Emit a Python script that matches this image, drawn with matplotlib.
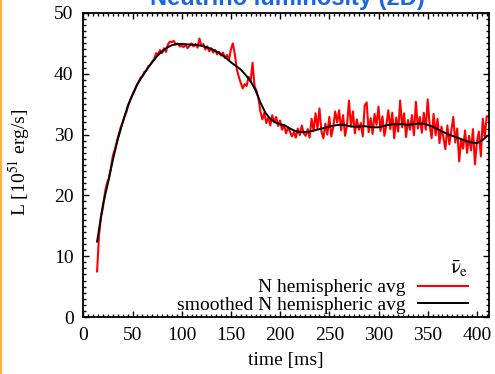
import numpy as np
import matplotlib
matplotlib.use("Agg")
import matplotlib.pyplot as plt
from matplotlib.ticker import MultipleLocator
from matplotlib.lines import Line2D

plt.rcParams['font.family'] = ['Liberation Serif', 'DejaVu Serif']
plt.rcParams['mathtext.fontset'] = 'stix'

title = "Neutrino luminosity (2D)"
xlabel = "time [ms]"
ylabel = r"L [10$^{51}$ erg/s]"
legend_title = r"$\bar{\mathrm{\nu}}_{\mathrm{e}}$"
label_raw = "N hemispheric avg"
label_smooth = "smoothed N hemispheric avg"

# raw (N hemispheric avg), sampled every 2 ms from 14 ms to 410 ms
t_raw = np.arange(14, 411, 2)
L_raw = [
    7.5, 13.5, 16.5, 18.0, 20.5, 22.0, 22.8, 24.5, 26.5, 27.5,      # 14-32
    28.8, 30.0, 31.2, 32.0, 33.0, 33.8, 35.0, 35.8, 36.5, 37.2,     # 34-52
    38.0, 38.6, 39.3, 39.6, 40.3, 40.5, 41.2, 41.5, 42.0, 42.4,     # 54-72
    43.4, 43.2, 43.9, 43.4, 44.2, 43.6, 44.8, 45.3, 45.2, 45.4,     # 74-92
    44.8, 45.0, 44.5, 44.6, 44.4, 44.8, 44.2, 44.6, 45.0, 44.5,     # 94-112
    44.9, 44.3, 45.8, 44.6, 44.9, 44.0, 44.5, 43.7, 44.2, 43.5,     # 114-132
    43.9, 43.2, 43.6, 43.0, 43.5, 42.6, 43.1, 42.3, 44.0, 45.0,     # 134-152
    43.2, 40.8, 39.5, 38.5, 37.6, 38.3, 38.0, 39.5, 38.7, 41.8,     # 154-172
    38.0, 37.2, 36.0, 33.8, 32.5, 33.6, 31.9, 32.8, 31.5, 33.2,     # 174-192
    32.0, 32.9, 31.4, 32.3, 30.8, 31.6, 30.2, 31.2, 30.5, 29.7,     # 194-212
    30.4, 29.5, 31.0, 29.9, 31.5, 30.2, 29.8, 30.9, 29.5, 32.6,     # 214-232
    30.6, 33.5, 31.0, 34.3, 30.5, 29.4, 31.8, 30.0, 32.9, 29.7,     # 234-252
    31.2, 33.8, 32.0, 34.0, 30.7, 33.2, 29.8, 31.5, 35.6, 31.3,     # 254-272
    33.8, 30.2, 32.5, 30.8, 31.9, 29.7, 34.8, 35.3, 30.4, 32.7,     # 274-292
    30.1, 33.4, 31.6, 34.6, 30.6, 33.0, 29.8, 31.6, 34.0, 30.9,     # 294-312
    33.6, 29.4, 32.8, 30.5, 35.6, 31.2, 33.5, 29.6, 32.4, 30.8,     # 314-332
    33.2, 29.9, 35.4, 31.0, 32.9, 30.3, 33.6, 30.8, 35.8, 31.5,     # 334-352
    29.4, 33.4, 29.9, 32.6, 28.6, 31.3, 29.5, 27.6, 31.5, 28.4,     # 354-372
    30.6, 32.9, 28.7, 31.0, 25.6, 29.2, 27.7, 30.7, 27.0, 29.8,     # 374-392
    27.4, 30.9, 25.1, 28.8, 30.5, 26.4, 32.6, 29.7, 33.0,           # 394-410
]

# smoothed curve
t_smooth = [14, 20, 25, 30, 35, 40, 45, 50, 55, 60, 65, 70, 75, 80, 85, 90, 95,
            100, 105, 110, 115, 120, 125, 130, 135, 140, 145, 150, 155, 160, 165,
            170, 175, 180, 185, 190, 195, 200, 205, 210, 215, 220, 225, 230, 235,
            240, 245, 250, 255, 260, 265, 270, 275, 280, 285, 290, 295, 300, 305,
            310, 315, 320, 325, 330, 335, 340, 345, 350, 355, 360, 365, 370, 375,
            380, 385, 390, 395, 400, 405, 410]
L_smooth = [12.4, 18.5, 22.0, 25.8, 29.2, 32.0, 34.6, 36.6, 38.3, 39.6, 40.8,
            41.9, 42.9, 43.7, 44.3, 44.7, 44.9, 44.9, 44.85, 44.8, 44.75, 44.6,
            44.4, 44.1, 43.7, 43.2, 42.6, 41.9, 41.3, 40.7, 39.8, 38.8, 37.3,
            35.3, 33.6, 32.6, 32.0, 31.7, 31.5, 31.0, 30.6, 30.4, 30.4, 30.5,
            30.7, 30.9, 31.1, 31.3, 31.5, 31.6, 31.6, 31.4, 31.3, 31.3, 31.4,
            31.3, 31.2, 31.2, 31.4, 31.6, 31.7, 31.7, 31.7, 31.6, 31.7, 31.8,
            31.8, 31.6, 31.3, 30.9, 30.5, 30.1, 29.8, 29.5, 29.2, 28.9, 28.7,
            28.6, 29.0, 29.7]

assert len(t_raw) == len(L_raw), (len(t_raw), len(L_raw))
assert len(t_smooth) == len(L_smooth)

W, H = 495, 374
fig = plt.figure(figsize=(W / 100, H / 100), dpi=100)
ax = fig.add_axes([83.3 / W, 1 - 317 / H, (489.3 - 83.3) / W, (317 - 13) / H])

ax.plot(t_raw, L_raw, color='#ff0000', lw=1.5, label=label_raw)
ax.plot(t_smooth, L_smooth, color='black', lw=1.4, label=label_smooth)

ax.set_xlim(0, 412.6)
ax.set_ylim(0, 50)
ax.xaxis.set_major_locator(MultipleLocator(50))
ax.xaxis.set_minor_locator(MultipleLocator(5))
ax.yaxis.set_major_locator(MultipleLocator(10))
ax.yaxis.set_minor_locator(MultipleLocator(1))
ax.tick_params(which='both', direction='in', top=True, right=True,
               labelsize=14, width=1.0)
ax.tick_params(which='major', length=4.5, pad=7)
ax.tick_params(which='minor', length=2.0)
for s in ax.spines.values():
    s.set_linewidth(1.3)

ax.set_xlabel(xlabel, fontsize=14, labelpad=6)
fig.text(20 / W, 1 - 162 / H, ylabel, rotation=90, ha='center', va='center',
         fontsize=14)

leg = ax.legend(loc='lower right', bbox_to_anchor=(0.955, 0.0),
                frameon=False, markerfirst=False, fontsize=14,
                handlelength=2.6, handletextpad=0.6, labelspacing=0.0,
                borderaxespad=0.0, borderpad=0.15, title=legend_title,
                title_fontsize=15, alignment='right')

fig.text(287 / W, 1 - 5 / H, title, ha='center', va='baseline', fontsize=17,
         fontweight='bold', color='#1a66e0', family='Liberation Sans')

fig.add_artist(Line2D([1 / W, 1 / W], [0, 1], color='#ffb040', lw=1.6,
                      transform=fig.transFigure))

fig.savefig('out.png', dpi=100)
